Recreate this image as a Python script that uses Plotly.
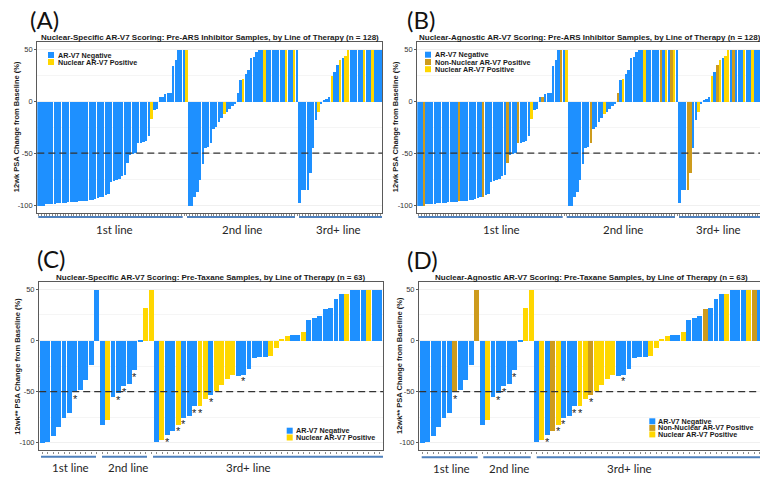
import plotly.graph_objects as go

W, H = 760, 477

# ---------------- Pre-ARS inhibitor samples (panels A, B), n = 128 ----------------
# 12wk PSA change from baseline (%), capped at +50, ordered as plotted
ars_1st_line = [-100, -100, -100, -99, -99, -99, -99, -98, -98, -98,
                -98, -97, -97, -97, -97, -96, -96, -96, -96, -95,
                -95, -94, -93, -92, -92, -90, -89, -77, -76, -75,
                -74, -72, -71, -59, -51, -50, -49, -40, -40, -39,
                -38, -33, -17, -8, -7, 5, 5, 7, 8, 8,
                34, 40, 50, 50, 50, 50]
ars_2nd_line = [-100, -100, -92, -87, -75, -60, -45, -44, -40, -26,
                -24, -20, -16, -12, -10, -7, -4, -2,
                8, 21, 22, 27, 31, 42, 43, 48,
                50, 50, 50, 50, 50, 50, 50, 50, 50, 50, 50, 50, 50, 50, 50]
ars_3rd_line = [-98, -85, -85, -85, -69, -45, -18, -10, -2, 1,
                3, 5, 25, 29, 35, 40, 42, 44,
                50, 50, 50, 50, 50, 50, 50, 50, 50, 50, 50, 50, 50]
# sample positions (0-based, plotting order)
ars_nuclear_pos = [42, 55, 69, 76, 84, 92, 95, 104, 109, 112, 114, 115, 121, 124]
ars_nonnuclear_pos = [2, 15, 24, 33, 37, 46, 53, 64, 74, 90, 94, 100, 101, 111, 117]

# ---------------- Pre-taxane samples (panels C, D), n = 63 ----------------
tax_1st_line = [-100, -99, -93, -84, -75, -71, -50, -48, -38, -24, 50]
tax_2nd_line = [-82, -77, -55, -51, -44, -42, -29, -1, 32, 50]
tax_3rd_line = [-99, -97, -92, -88, -82, -75, -73, -64, -64, -57,
                -53, -49, -43, -37, -33, -34, -33, -28, -17, -16,
                -16, -15, -7, 2, 5, 6, 6, 9, 20, 22,
                24, 31, 32, 41, 46, 46, 50, 50, 50, 50,
                50, 50]
tax_nuclear_pos = [12, 19, 20, 22, 25, 29, 30, 32, 33, 34, 35, 42, 43, 44, 45, 48, 56, 60]
tax_nonnuclear_pos = [6, 10, 24, 31, 52, 61]
tax_asterisk_pos = [6, 14, 15, 17, 23, 25, 26, 28, 29, 31, 37]

NEG, NON, NUC = "AR-V7 Negative", "Non-Nuclear AR-V7 Positive", "Nuclear AR-V7 Positive"
colors = {NEG: "#1E90FF", NON: "#CD9B1D", NUC: "#FFD700"}
line_labels = ["1st line", "2nd line", "3rd+ line"]

ars_values = ars_1st_line + ars_2nd_line + ars_3rd_line
tax_values = tax_1st_line + tax_2nd_line + tax_3rd_line


def status(n, nuc, non, agnostic):
    out = []
    for i in range(n):
        if i in nuc:
            out.append(NUC)
        elif agnostic and i in non:
            out.append(NON)
        else:
            out.append(NEG)
    return out


TF = "Liberation Sans, Arial, sans-serif"
LF = "Lato, 'Open Sans', sans-serif"

panels = [
    dict(n=1, letter="(A)", letter_xy=(44, 20), values=ars_values,
         status=status(len(ars_values), ars_nuclear_pos, ars_nonnuclear_pos, False),
         cats=[NEG, NUC],
         title="Nuclear-Specific AR-V7 Scoring: Pre-ARS Inhibitor Samples, by Line of Therapy (n = 128)",
         title_y=37, ytitle="12wk PSA Change from Baseline (%)", ytitle_x=16,
         dom_x=(37.3, 382.3), full_right=382.3, dom_y=(41.5, 212.8),
         legend_sq_x=48, legend_ys=[55, 62], legend_text_x=55.5,
         segs=[(38.3, 182.7), (187, 295), (299, 382)], seg_y=217,
         label_x=[114, 242, 338], label_y=229, stars=[]),
    dict(n=2, letter="(B)", letter_xy=(421, 20), values=ars_values,
         status=status(len(ars_values), ars_nuclear_pos, ars_nonnuclear_pos, True),
         cats=[NEG, NON, NUC],
         title="Nuclear-Agnostic AR-V7 Scoring: Pre-ARS Inhibitor Samples, by Line of Therapy (n = 128)",
         title_y=37.5, ytitle="12wk PSA Change from Baseline (%)", ytitle_x=395,
         dom_x=(417.3, 760), full_right=762.3, dom_y=(41.5, 212.8),
         legend_sq_x=425, legend_ys=[54.7, 62, 69.2], legend_text_x=432.5,
         segs=[(418.3, 562.7), (566.7, 675), (679, 760)], seg_y=217,
         label_x=[501, 622.5, 718], label_y=229, stars=[]),
    dict(n=3, letter="(C)", letter_xy=(51, 258.5), values=tax_values,
         status=status(len(tax_values), tax_nuclear_pos, tax_nonnuclear_pos, False),
         cats=[NEG, NUC],
         title="Nuclear-Specific AR-V7 Scoring: Pre-Taxane Samples, by Line of Therapy (n = 63)",
         title_y=277.3, ytitle="12wk** PSA Change from Baseline (%)", ytitle_x=16.7,
         dom_x=(39.2, 383), full_right=383, dom_y=(281.6, 450.4),
         legend_sq_x=286.7, legend_ys=[430.7, 437.5], legend_text_x=293.5,
         segs=[(41, 96), (102, 147), (153, 383)], seg_y=456.7,
         label_x=[70, 127.5, 248], label_y=467.7, stars=tax_asterisk_pos),
    dict(n=4, letter="(D)", letter_xy=(422.5, 259), values=tax_values,
         status=status(len(tax_values), tax_nuclear_pos, tax_nonnuclear_pos, True),
         cats=[NEG, NON, NUC],
         title="Nuclear-Agnostic AR-V7 Scoring: Pre-Taxane Samples, by Line of Therapy (n = 63)",
         title_y=277.7, ytitle="12wk** PSA Change from Baseline (%)", ytitle_x=399,
         dom_x=(419.2, 760), full_right=763, dom_y=(281.6, 450.4),
         legend_sq_x=649.3, legend_ys=[421.3, 427.9, 434.4], legend_text_x=656,
         segs=[(421.7, 477.7), (483.3, 530.7), (536.7, 760)], seg_y=457.3,
         label_x=[451, 508.8, 629.5], label_y=468.3, stars=tax_asterisk_pos),
]


def px(x):
    return x / W


def py(y):
    return 1 - y / H


fig = go.Figure()
shapes, annotations = [], []
layout_axes = {}

for p in panels:
    n = p["n"]
    xa, ya = ("x" if n == 1 else f"x{n}"), ("y" if n == 1 else f"y{n}")
    xkey, ykey = ("xaxis" if n == 1 else f"xaxis{n}"), ("yaxis" if n == 1 else f"yaxis{n}")
    vals = p["values"]
    nbar = len(vals)
    # x range: ggplot-like 0.6 expansion; panels cut at the right page edge keep the same scale
    full_w = p["full_right"] - p["dom_x"][0]
    unit = full_w / (nbar - 1 + 1.2)
    vis_w = p["dom_x"][1] - p["dom_x"][0]
    xr = [-0.6, -0.6 + vis_w / unit]

    for cat in p["cats"]:
        xs = [i for i in range(nbar) if p["status"][i] == cat]
        ys = [vals[i] for i in xs]
        fig.add_trace(go.Bar(x=xs, y=ys, width=0.9, name=cat,
                             marker=dict(color=colors[cat], line=dict(width=0)),
                             xaxis=xa, yaxis=ya, showlegend=False))

    layout_axes[xkey] = dict(domain=[px(p["dom_x"][0]), px(p["dom_x"][1])], range=xr,
                             anchor=ya, showline=True, mirror=True, linecolor="#5a5a5a",
                             linewidth=1.3, ticks="outside", ticklen=2, tickwidth=0.5,
                             tickcolor="#8a8a8a", tickvals=list(range(nbar)),
                             showticklabels=False, showgrid=False, zeroline=False)
    layout_axes[ykey] = dict(domain=[py(p["dom_y"][1]), py(p["dom_y"][0])], range=[-107.5, 57.5],
                             anchor=xa, showline=True, mirror=True, linecolor="#5a5a5a",
                             linewidth=1.3, ticks="outside", ticklen=2, tickcolor="#5a5a5a",
                             tickvals=[-100, -50, 0, 50], ticktext=["-100", "-50", "0", "50"],
                             tickfont=dict(family=TF, size=7.5, color="#333333"),
                             showgrid=True, gridcolor="#f0f0f0", gridwidth=0.6,
                             minor=dict(tickvals=[-75, -25, 25], showgrid=True,
                                        gridcolor="#f5f5f5", gridwidth=0.5, ticks=""),
                             zeroline=False)

    # dashed -50% reference line
    shapes.append(dict(type="line", xref=f"{xa} domain", x0=0, x1=1, yref=ya, y0=-50, y1=-50,
                       line=dict(color="#333333", width=1.2, dash="7px,4px"), layer="above"))

    # title
    cx = (p["dom_x"][0] + p["full_right"]) / 2
    annotations.append(dict(text=f"<b>{p['title']}</b>", x=px(cx), y=py(p["title_y"]),
                            xref="paper", yref="paper", xanchor="center", yanchor="middle",
                            showarrow=False, font=dict(family=TF, size=8, color="#1a1a1a")))
    # panel letter
    annotations.append(dict(text=p["letter"], x=px(p["letter_xy"][0]), y=py(p["letter_xy"][1]),
                            xref="paper", yref="paper", xanchor="center", yanchor="middle",
                            showarrow=False, font=dict(family=LF, size=24, color="#111111")))
    # y title
    cy = (p["dom_y"][0] + p["dom_y"][1]) / 2
    annotations.append(dict(text=f"<b>{p['ytitle']}</b>", x=px(p["ytitle_x"]), y=py(cy),
                            xref="paper", yref="paper", textangle=-90, xanchor="center",
                            yanchor="middle", showarrow=False,
                            font=dict(family=TF, size=7.5, color="#1a1a1a")))
    # legend (drawn manually, compact ggplot-style keys)
    for cat, yc in zip(p["cats"], p["legend_ys"]):
        shapes.append(dict(type="rect", xref="paper", yref="paper",
                           x0=px(p["legend_sq_x"]), x1=px(p["legend_sq_x"] + 6),
                           y0=py(yc + 3), y1=py(yc - 3),
                           fillcolor=colors[cat], line=dict(width=0)))
        annotations.append(dict(text=f"<b>{cat}</b>", x=px(p["legend_text_x"]), y=py(yc),
                                xref="paper", yref="paper", xanchor="left", yanchor="middle",
                                showarrow=False, font=dict(family=TF, size=7.2, color="#1a1a1a")))
    # line-of-therapy brackets
    for (x0, x1), lx, lab in zip(p["segs"], p["label_x"], line_labels):
        shapes.append(dict(type="line", xref="paper", yref="paper", x0=px(x0), x1=px(x1),
                           y0=py(p["seg_y"]), y1=py(p["seg_y"]),
                           line=dict(color="#4F81BD", width=2)))
        annotations.append(dict(text=lab, x=px(lx), y=py(p["label_y"]), xref="paper",
                                yref="paper", xanchor="center", yanchor="middle",
                                showarrow=False, font=dict(family=LF, size=11.5, color="#262626")))
    # asterisks
    for i in p["stars"]:
        annotations.append(dict(text="*", x=i, y=vals[i], xref=xa, yref=ya, xanchor="center",
                                yanchor="top", showarrow=False, yshift=1,
                                font=dict(family=TF, size=11, color="#222222")))

fig.update_layout(width=W, height=H, margin=dict(l=0, r=0, t=0, b=0),
                  paper_bgcolor="white", plot_bgcolor="white", barmode="overlay",
                  bargap=0, showlegend=False, shapes=shapes, annotations=annotations,
                  **layout_axes)

fig.write_html("out.html", config={"displayModeBar": False},
               post_script="document.body.style.margin='0';document.body.style.overflow='hidden';")
